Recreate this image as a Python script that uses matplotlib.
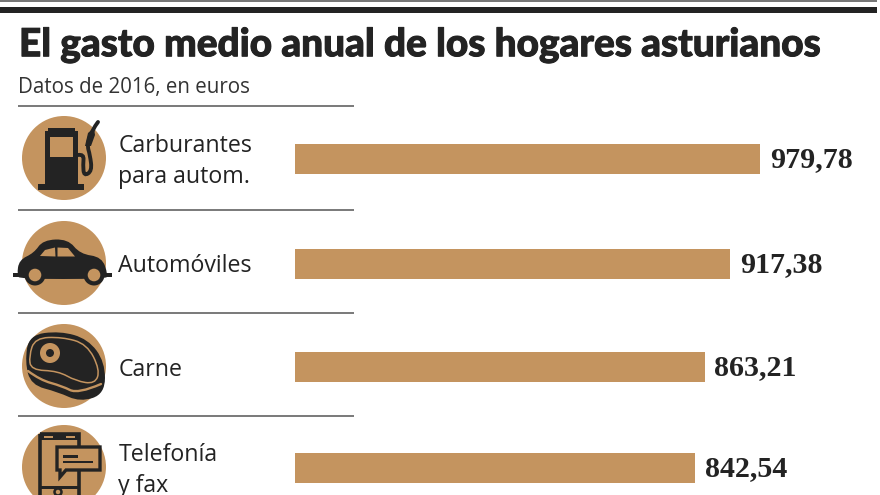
import matplotlib
matplotlib.use("Agg")
import matplotlib.pyplot as plt
import matplotlib.patheffects as pe
from matplotlib.patches import Circle, Rectangle, Polygon, PathPatch
from matplotlib.path import Path

categories = ["Carburantes\npara autom.", "Automóviles", "Carne", "Telefonía\ny fax"]
values = [979.78, 917.38, 863.21, 842.54]
value_labels = ["979,78", "917,38", "863,21", "842,54"]
title = "El gasto medio anual de los hogares asturianos"
subtitle = "Datos de 2016, en euros"

DARK = "#232323"
TAN = "#c4945f"
W, H = 880, 495
row_y = [159, 264, 367, 468]
circle_y = [158, 263, 366, 467]
rule_y = [106, 210, 313, 416]

fig = plt.figure(figsize=(8.8, 4.95), dpi=100, facecolor="white")
bg = fig.add_axes([0, 0, 1, 1])
bg.set_xlim(0, W); bg.set_ylim(H, 0); bg.axis("off")

PX_PER_UNIT = 465 / 979.78
ax = fig.add_axes([295 / W, 0, (W - 295) / W, 1])
ax.set_xlim(0, (W - 295) / PX_PER_UNIT); ax.set_ylim(H, 0); ax.axis("off")
ax.patch.set_alpha(0)
ax.barh(row_y, values, height=30, color=TAN, linewidth=0)
for y, v, lab in zip(row_y, values, value_labels):
    ax.annotate(lab, (v, y), xytext=(7, -0.5), textcoords="offset points", va="center", ha="left",
                fontsize=21.6, fontweight="bold", family="Liberation Serif", color=DARK)

bg.add_patch(Rectangle((0, 0), W - 3, 2.4, color="#777777", lw=0))
bg.add_patch(Rectangle((0, 7), W - 3, 6, color=DARK, lw=0))

t = bg.text(19, 45, title, fontsize=27.9, fontweight="black", family="Lato", color=DARK, va="center", ha="left")
t.set_path_effects([pe.withStroke(linewidth=0.7, foreground=DARK)])
bg.text(18, 87, subtitle, fontsize=14.8, family="Open Sans", color="#333333", va="center", ha="left")

for y in rule_y:
    bg.plot([18, 354], [y, y], color="#555555", lw=1.1, solid_capstyle="butt")

for y, cat in zip(row_y, categories):
    bg.text(118.5, y + 2.5, cat, fontsize=16.7, family="Open Sans", color=DARK,
            va="center", ha="left", linespacing=1.36)

for cy in circle_y:
    bg.add_patch(Circle((64, cy), 42, color=TAN, lw=0))


def blob(pts, **kw):
    """Closed smooth shape through the midpoints of pts."""
    mids = [((pts[i][0] + pts[(i + 1) % len(pts)][0]) / 2, (pts[i][1] + pts[(i + 1) % len(pts)][1]) / 2) for i in range(len(pts))]
    verts = [mids[-1]]
    codes = [Path.MOVETO]
    for i in range(len(pts)):
        verts += [pts[i], mids[i]]
        codes += [Path.CURVE3, Path.CURVE3]
    bg.add_patch(PathPatch(Path(verts, codes), **kw))


def curve(pts, **kw):
    verts = [pts[0]]
    codes = [Path.MOVETO]
    for i in range(1, len(pts) - 1):
        end = pts[i + 1] if i == len(pts) - 2 else ((pts[i][0] + pts[i + 1][0]) / 2, (pts[i][1] + pts[i + 1][1]) / 2)
        verts += [pts[i], end]
        codes += [Path.CURVE3, Path.CURVE3]
    bg.add_patch(PathPatch(Path(verts, codes), fill=False, capstyle="round", **kw))


def r(x0, y0, x1, y1, c=DARK):
    bg.add_patch(Rectangle((x0, y0), x1 - x0, y1 - y0, color=c, lw=0))


# --- fuel pump
r(45, 131, 78, 184)
r(48, 128, 75, 133)
r(38, 184, 84, 190)
r(50, 137, 73, 157, TAN)
curve([(78, 155), (84, 154), (83, 165), (84, 176), (92, 171), (90, 155), (87, 145), (92, 130), (98, 122)],
      edgecolor=DARK, lw=2.8)
bg.add_patch(Polygon([(85, 146), (88, 133), (94, 128), (95, 135), (91, 146)], color=DARK, lw=0))

# --- car
blob([(17, 275), (19, 260), (34, 253), (43, 240), (68, 239), (80, 254), (102, 257), (108, 275), (106, 279), (20, 279)],
     color=DARK, lw=0)
r(13, 273, 112, 276.5)
bg.add_patch(Polygon([(40, 256), (45, 250), (55, 247.5), (55.5, 256.5)], color=TAN, lw=0))
bg.add_patch(Polygon([(57.5, 247.5), (68, 248), (75, 256.5), (57.5, 256.5)], color=TAN, lw=0))
for wx in (35, 94):
    bg.add_patch(Circle((wx, 275), 10.5, color=DARK, lw=0))
    bg.add_patch(Circle((wx, 275), 6.3, color=TAN, lw=0))

# --- steak
blob([(25, 362), (29, 335), (60, 331), (88, 339), (105, 362), (105, 394), (80, 402), (58, 392), (31, 385)],
     color=DARK, lw=0)
curve([(28, 371), (40, 380), (62, 386), (78, 394), (101, 384)], edgecolor=TAN, lw=1.7)
blob([(29, 356), (35, 338), (62, 337), (87, 344), (100, 370), (95, 384), (76, 381), (58, 371), (31, 370)],
     facecolor=DARK, edgecolor=TAN, lw=1.1)
bg.add_patch(Circle((50, 353), 10, color=TAN, lw=0))
bg.add_patch(Circle((50, 353), 4, color=DARK, lw=0))

# --- phone with chat bubble
bg.add_patch(Rectangle((40, 433.5), 39, 70, fill=False, edgecolor=DARK, lw=2.6))
r(40, 433, 79, 440)
r(44, 435.5, 53, 437.5, TAN)
r(66, 435.5, 75, 437.5, TAN)
r(39, 486, 80, 488.5)
bg.add_patch(Polygon([(57, 447), (100, 447), (100, 470), (66, 470), (60, 477), (60, 470), (57, 470)],
                     facecolor=TAN, edgecolor=DARK, lw=2.4))
r(63, 455, 78, 457.5)
r(63, 460.5, 93, 463)
bg.add_patch(Circle((58, 492), 3.5, fill=False, edgecolor=DARK, lw=1.8))

fig.savefig("out.png", dpi=100, facecolor="white")
